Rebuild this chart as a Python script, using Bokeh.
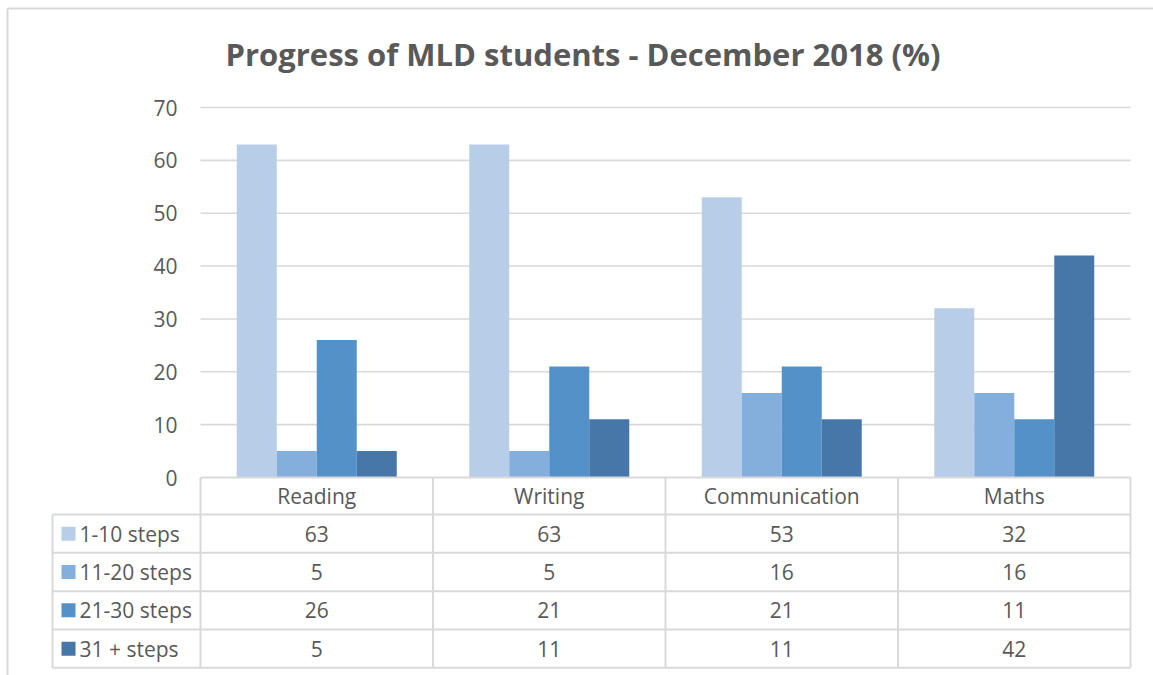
from bokeh.plotting import figure
from bokeh.models import Range1d
from bokeh.core.properties import value
from bokeh.embed import file_html
from bokeh.resources import INLINE

# ---------------- data ----------------
categories = ["Reading", "Writing", "Communication", "Maths"]
series_names = ["1-10 steps", "11-20 steps", "21-30 steps", "31 + steps"]
steps_1_10 = [63, 63, 53, 32]
steps_11_20 = [5, 5, 16, 16]
steps_21_30 = [26, 21, 21, 11]
steps_31_plus = [5, 11, 11, 42]
series_values = [steps_1_10, steps_11_20, steps_21_30, steps_31_plus]
y_ticks = [0, 10, 20, 30, 40, 50, 60, 70]
title_text = "Progress of MLD students - December 2018 (%)"

colors = ["#B7CDE8", "#84AEDC", "#5591C9", "#4677A8"]
TEXT = "#595959"
GRID = "#D9D9D9"
FONT = "Open Sans"
FS = "21px"

# ---------------- geometry helpers (page px -> data) ----------------
W, H = 1153, 675
PAGE0 = 0
BAND_PX = 232.5          # width of one category band
X_ORIGIN = 200           # page x of band 0 start
Y_ORIGIN = 477           # page y of value 0
PX_PER_UNIT = 370 / 70   # vertical scale


def X(px):
    return (px - X_ORIGIN) / BAND_PX


def Y(py):
    return (Y_ORIGIN - py) / PX_PER_UNIT


p = figure(width=W, height=H, output_backend="svg", toolbar_location=None,
           x_range=Range1d(X(PAGE0), X(PAGE0 + W)),
           y_range=Range1d(Y(PAGE0 + H), Y(PAGE0)),
           min_border=0)
p.axis.visible = False
p.grid.visible = False
p.outline_line_color = None
p.background_fill_color = "white"
p.border_fill_color = "white"

ncat = len(categories)

# outer chart border (left and top)
p.segment(x0=[X(7), X(7)], y0=[Y(8), Y(8)],
          x1=[X(7), X(W)], y1=[Y(H), Y(8)],
          line_color=GRID, line_width=2)

# gridlines
p.segment(x0=[0] * len(y_ticks[1:]), x1=[ncat] * len(y_ticks[1:]),
          y0=y_ticks[1:], y1=y_ticks[1:], line_color=GRID, line_width=1.6)

# y tick labels
p.text(x=[0] * len(y_ticks), y=y_ticks, text=[str(t) for t in y_ticks],
       x_offset=-23, text_align="right", text_baseline="middle",
       text_font=value(FONT), text_font_size=FS, text_color=TEXT)

# bars
bar_w = 40 / BAND_PX
nser = len(series_names)
for si, (vals, col) in enumerate(zip(series_values, colors)):
    xs = [ci + 0.5 + (si - (nser - 1) / 2) * bar_w for ci in range(ncat)]
    p.vbar(x=xs, top=vals, bottom=0, width=bar_w, fill_color=col,
           line_color=None)

# ---------------- data table ----------------
header_h = 7.0
row_h = 7.25
row_tops = [-header_h - i * row_h for i in range(nser + 1)]  # lines
legend_left = X(52)

hx0 = [0]
hx1 = [ncat]
hy = [0]
for ry in row_tops:
    hx0.append(legend_left)
    hx1.append(ncat)
    hy.append(ry)
p.segment(x0=hx0, x1=hx1, y0=hy, y1=hy, line_color=GRID, line_width=2)

vx = [legend_left] + list(range(ncat + 1))
vy0 = [row_tops[0]] + [0] * (ncat + 1)
vy1 = [row_tops[-1]] * (ncat + 2)
p.segment(x0=vx, x1=vx, y0=vy0, y1=vy1, line_color=GRID, line_width=2)

# header labels
p.text(x=[ci + 0.5 for ci in range(ncat)], y=[-header_h / 2] * ncat,
       text=categories, text_align="center", text_baseline="middle",
       text_font=value(FONT), text_font_size=FS, text_color=TEXT)

# legend column + values
for si in range(nser):
    ymid = row_tops[si] - row_h / 2
    p.scatter(x=[X(68)], y=[ymid], marker="square", size=14,
              fill_color=colors[si], line_color=None)
    p.text(x=[X(79)], y=[ymid], text=[series_names[si]], text_align="left",
           text_baseline="middle", text_font=value(FONT),
           text_font_size=FS, text_color=TEXT)
    p.text(x=[ci + 0.5 for ci in range(ncat)], y=[ymid] * ncat,
           text=[str(v) for v in series_values[si]], text_align="center",
           text_baseline="middle", text_font=value(FONT),
           text_font_size=FS, text_color=TEXT)

# title
p.text(x=[X(582.5)], y=[Y(53)], text=[title_text], text_align="center",
       text_baseline="middle", text_font=value(FONT), text_font_size="31px",
       text_font_style="bold", text_color=TEXT)

open("out.html", "w").write(file_html(p, INLINE))
